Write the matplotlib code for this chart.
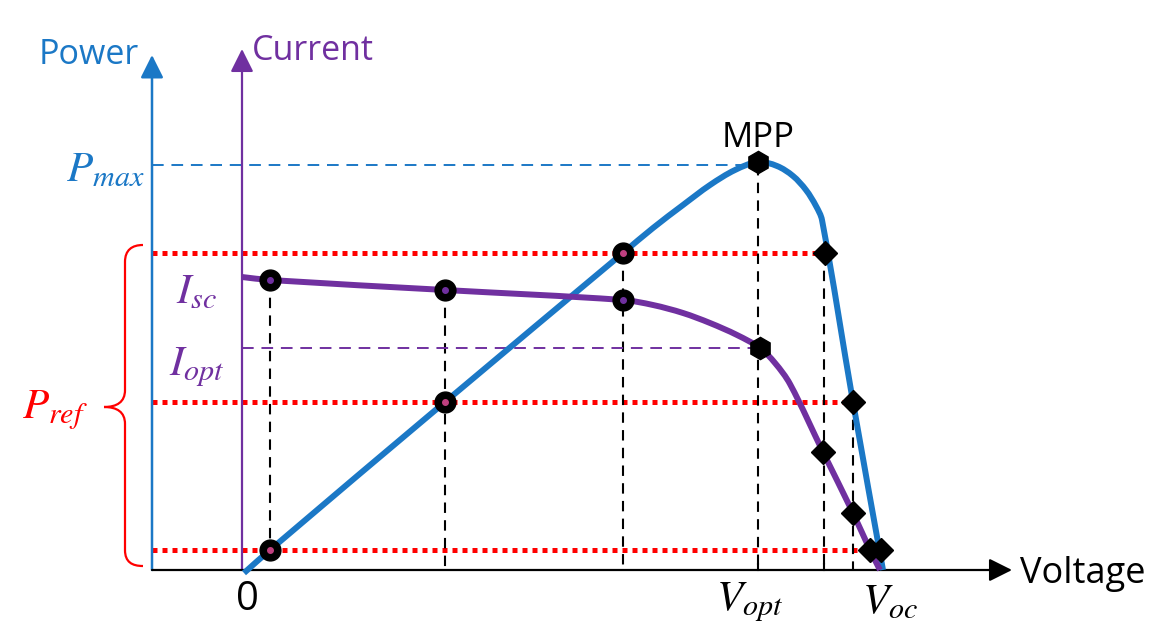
import numpy as np
import matplotlib
matplotlib.use('Agg')
import matplotlib.pyplot as plt
from matplotlib.path import Path
from matplotlib.patches import PathPatch

##################
# DATA ###########
##################

# P-V curve (voltage, power) in diagram units
pv_voltage = [-3, 23, 198, 376, 406, 436, 463, 488, 511, 530, 546, 559, 569, 575, 606, 636]
pv_power   = [-3, 20, 168, 317, 342, 365, 385, 400, 408, 404, 394, 380, 364, 350, 168, 0]

# I-V curve (voltage, current)
iv_voltage = [-5, 23, 198, 376, 406, 436, 463, 490, 513, 528, 543, 576, 606, 623, 633]
iv_current = [293, 290, 280, 270, 265, 257, 247, 235, 222, 207, 186, 118, 57, 20, 0]

# reference power levels and the operating points they give
p_ref = [317, 168, 20]
left_voltage = [376, 198, 23]        # intersections on the rising side
right_voltage = [578, 606, 634]      # intersections on the falling side
left_current = [270, 280, 290]
right_current_v = [576, 606, 623]
right_current = [118, 57, 20]

v_opt = 511
p_max = 405
i_opt = 222

##################
# STYLE ##########
##################

BLUE = '#1b78c6'
PURPLE = '#7030a0'
RED = '#ff0000'

plt.rcParams['mathtext.fontset'] = 'stix'
plt.rcParams['font.family'] = ['Open Sans', 'DejaVu Sans']


def smooth_path(xs, ys):
    # smooth cubic Bezier through the points, tangents scaled by segment length
    pts = np.column_stack([xs, ys]).astype(float)
    n = len(pts)
    seg = np.linalg.norm(np.diff(pts, axis=0), axis=1)
    tangents = np.zeros_like(pts)
    for i in range(n):
        if i == 0:
            tangents[i] = (pts[1] - pts[0]) / seg[0]
        elif i == n - 1:
            tangents[i] = (pts[-1] - pts[-2]) / seg[-1]
        else:
            t = (pts[i + 1] - pts[i - 1])
            tangents[i] = t / np.linalg.norm(t)
    verts = [pts[0]]
    codes = [Path.MOVETO]
    for i in range(n - 1):
        d = seg[i] / 3
        verts += [pts[i] + tangents[i] * d, pts[i + 1] - tangents[i + 1] * d, pts[i + 1]]
        codes += [Path.CURVE4] * 3
    return Path(verts, codes)


fig = plt.figure(figsize=(11.54, 6.29), dpi=100)
ax = fig.add_axes([0, 0, 1, 1])
ax.set_xlim(-247, 907)
ax.set_ylim(-59, 570)
ax.axis('off')

power_axis_v = -95
current_axis_v = -5
arrow = '-|>,head_length=1.0,head_width=0.5'

# axes with arrows
ax.annotate('', xy=(power_axis_v, 515), xytext=(power_axis_v, 0),
            arrowprops=dict(arrowstyle=arrow, mutation_scale=14, lw=1.8, color=BLUE, shrinkA=0, shrinkB=0))
ax.annotate('', xy=(current_axis_v, 521), xytext=(current_axis_v, 0),
            arrowprops=dict(arrowstyle=arrow, mutation_scale=14, lw=1.6, color=PURPLE, shrinkA=0, shrinkB=0))
ax.annotate('', xy=(765, 0), xytext=(power_axis_v, 0),
            arrowprops=dict(arrowstyle=arrow, mutation_scale=14, lw=1.6, color='black', shrinkA=0, shrinkB=0))

# red dotted P_ref lines
for p, v in zip(p_ref, [578, 606, 633]):
    ax.plot([power_axis_v, v], [p, p], color=RED, lw=3.6, linestyle=(0, (1, 1)), zorder=2)

# black dashed drop lines
drops = [(23, 290, 20), (198, 280, 0), (376, 317, 0), (v_opt, p_max, 0), (577, 317, 0), (606, 168, 0)]
for v, top, bottom in drops:
    ax.plot([v, v], [top, bottom], color='black', lw=1.5, linestyle=(0, (5, 3.5)), zorder=2)

# P_max and I_opt guide lines
ax.plot([power_axis_v, 500], [p_max, p_max], color=BLUE, lw=1.4, linestyle=(0, (6, 4)), zorder=2)
ax.plot([current_axis_v, v_opt], [i_opt, i_opt], color=PURPLE, lw=1.4, linestyle=(0, (6, 4)), zorder=2)

# curves
ax.add_patch(PathPatch(smooth_path(pv_voltage, pv_power), facecolor='none', edgecolor=BLUE,
                       lw=4.3, joinstyle='round', capstyle='butt', zorder=3))
ax.add_patch(PathPatch(smooth_path(iv_voltage, iv_current), facecolor='none', edgecolor=PURPLE,
                       lw=4.3, joinstyle='round', capstyle='butt', zorder=3))

# operating point markers
ax.plot(left_voltage, p_ref, 'o', color='black', ms=15, zorder=5)
ax.plot(left_voltage, p_ref, 'o', color='#c04080', ms=4, zorder=6)
ax.plot(left_voltage, left_current, 'o', color='black', ms=15, zorder=5)
ax.plot(left_voltage, left_current, 'o', color=PURPLE, ms=4, zorder=6)
ax.plot(right_voltage, p_ref, 'D', color='black', ms=12, zorder=5)
ax.plot(right_current_v, right_current, 'D', color='black', ms=12, zorder=5)
ax.plot([v_opt, v_opt + 2], [p_max + 3, i_opt], 'h', color='black', ms=16, zorder=5)

# small ticks on the voltage axis
for v in [v_opt, 577]:
    ax.plot([v, v], [0, 6], color='black', lw=1.5, zorder=4)

# curly brace for P_ref range
brace = Path(
    [(-104, 325), (-115, 325), (-122, 320), (-122, 308),
     (-122, 180), (-122, 168), (-130, 163), (-143, 163),
     (-130, 163), (-122, 158), (-122, 146),
     (-122, 20), (-122, 8), (-115, 4), (-104, 4)],
    [Path.MOVETO, Path.CURVE4, Path.CURVE4, Path.CURVE4,
     Path.LINETO, Path.CURVE4, Path.CURVE4, Path.CURVE4,
     Path.CURVE4, Path.CURVE4, Path.CURVE4,
     Path.LINETO, Path.CURVE4, Path.CURVE4, Path.CURVE4])
ax.add_patch(PathPatch(brace, facecolor='none', edgecolor=RED, lw=1.6))

# labels
ax.text(-158, 515, 'Power', color=BLUE, fontsize=24.5, ha='center', va='center')
ax.text(5, 519, 'Current', color=PURPLE, fontsize=24.5, ha='left', va='center')
ax.text(773, -4, 'Voltage', color='black', fontsize=26, ha='left', va='center')
ax.text(v_opt, 432, 'MPP', color='black', fontsize=25, ha='center', va='center')
ax.text(0, -30, '0', color='black', fontsize=29, ha='center', va='center')
ax.text(503, -32, '$V_{opt}$', color='black', fontsize=31, ha='center', va='center')
ax.text(643, -32, '$V_{oc}$', color='black', fontsize=31, ha='center', va='center')
ax.text(-102, 400, '$P_{max}$', color=BLUE, fontsize=31, ha='right', va='center')
ax.text(-50, 278, '$I_{sc}$', color=PURPLE, fontsize=31, ha='center', va='center')
ax.text(-50, 203, '$I_{opt}$', color=PURPLE, fontsize=31, ha='center', va='center')
ax.text(-192, 160, '$P_{ref}$', color=RED, fontsize=31, ha='center', va='center')

fig.savefig('out.png', dpi=100)
